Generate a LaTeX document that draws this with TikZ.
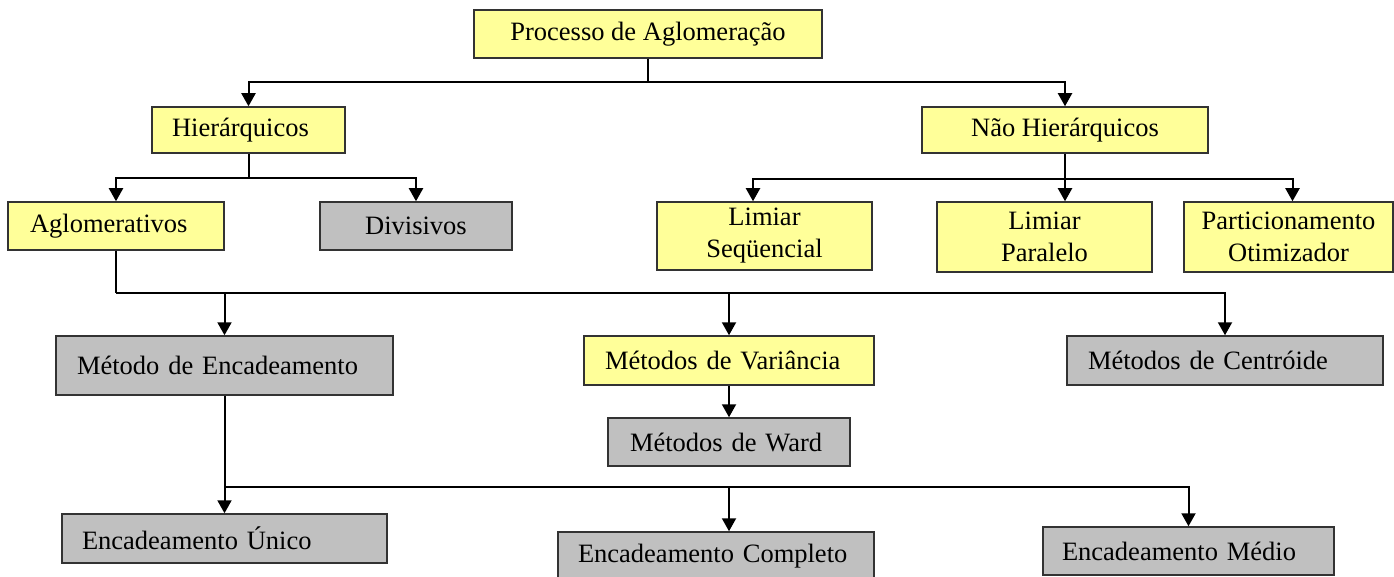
\documentclass[tikz,border=0pt]{standalone}
\usepackage{fontspec}
\setmainfont{Liberation Serif}
\usepackage{tikz}
\usetikzlibrary{arrows.meta}
\definecolor{boxyellow}{RGB}{255,255,153}
\definecolor{boxgray}{RGB}{192,192,192}
\tikzset{
    every node/.style={font=\fontsize{26.5}{32}\selectfont}, % Times-like text
    box/.style={ % Sets the properties for each box
        draw=black!80,
        line width=1.5pt,
        inner ysep=0pt,
        align=center
    },
    yellowbox/.style={box, fill=boxyellow},
    graybox/.style={box, fill=boxgray},
    padded/.style 2 args={text width=#1, inner xsep=#2, align=left}, % text pushed to the left
    link/.style={draw, line width=2pt},
    arr/.style={link, -{Triangle[length=13pt,width=14pt]}}
}
\begin{document}
\begin{tikzpicture}[x=1pt, y=-1pt]
    \useasboundingbox (0,0) rectangle (1394,577);

    \node[yellowbox, minimum width=348, minimum height=48] (proc) at (648,34) {Processo de Aglomeração};
    \node[yellowbox, padded={153pt}{20pt}, minimum height=46] (hier) at (248.5,130) {Hierárquicos};
    \node[yellowbox, minimum width=286, minimum height=46] (naohier) at (1065,130) {Não Hierárquicos};

    \node[yellowbox, padded={172pt}{22pt}, minimum height=48] (aglom) at (116,226) {Aglomerativos};
    \node[graybox, minimum width=192, minimum height=48] (divis) at (416,226) {Divisivos};
    \node[yellowbox, minimum width=215, minimum height=68] (limseq) at (764.5,236) {Limiar\\Seqüencial};
    \node[yellowbox, minimum width=215, minimum height=70] (limpar) at (1044.5,237) {Limiar\\Paralelo};
    \node[yellowbox, minimum width=209, minimum height=70] (partic) at (1288.5,237) {Particionamento\\Otimizador};

    \node[graybox, padded={295pt}{21pt}, minimum height=59] (metenc) at (224.5,365.5) {Método de Encadeamento};
    \node[yellowbox, padded={248pt}{21pt}, minimum height=49] (metvar) at (729,360.5) {Métodos de Variância};
    \node[graybox, padded={274pt}{21pt}, minimum height=49] (metcen) at (1225,360.5) {Métodos de Centróide};
    \node[graybox, padded={198pt}{22pt}, minimum height=48] (ward) at (729,442) {Métodos de Ward};

    \node[graybox, padded={285pt}{20pt}, minimum height=49] (encuni) at (224.5,538.5) {Encadeamento Único};
    \node[graybox, padded={276pt}{20pt}, minimum height=48] (enccom) at (716,556) {Encadeamento Completo};
    \node[graybox, padded={253pt}{19pt}, minimum height=48] (encmed) at (1188.5,551) {Encadeamento Médio};

    % first level
    \coordinate (j1) at (proc.south |- 0,82);
    \draw[link] (proc) -- (j1);
    \draw[arr] (j1) -| (hier);
    \draw[arr] (j1) -| (naohier);

    % hierarchical branch
    \coordinate (j2) at (hier.south |- 0,178);
    \draw[link] (hier) -- (j2);
    \draw[arr] (j2) -| (aglom);
    \draw[arr] (j2) -| (divis);

    % non hierarchical branch
    \coordinate (j3) at (naohier.south |- 0,179);
    \draw[arr] (naohier) -- (naohier |- limpar.north);
    \draw[arr] (j3) -| ([xshift=-11.5pt]limseq.north);
    \draw[arr] (j3) -| ([xshift=4pt]partic.north);

    % agglomerative methods
    \coordinate (j4) at (aglom.south |- 0,293);
    \draw[link] (aglom) -- (j4);
    \draw[arr] (j4) -| (metcen);
    \draw[arr] (j4 -| metenc) -- (metenc);
    \draw[arr] (j4 -| metvar) -- (metvar);
    \draw[arr] (metvar) -- (ward);

    % linkage methods
    \coordinate (j5) at (metenc.south |- 0,487);
    \draw[arr] (metenc) -- (encuni);
    \draw[arr] (j5) -| (encmed);
    \draw[arr] (j5 -| ward) -- (ward |- enccom.north);
\end{tikzpicture}
\end{document}
